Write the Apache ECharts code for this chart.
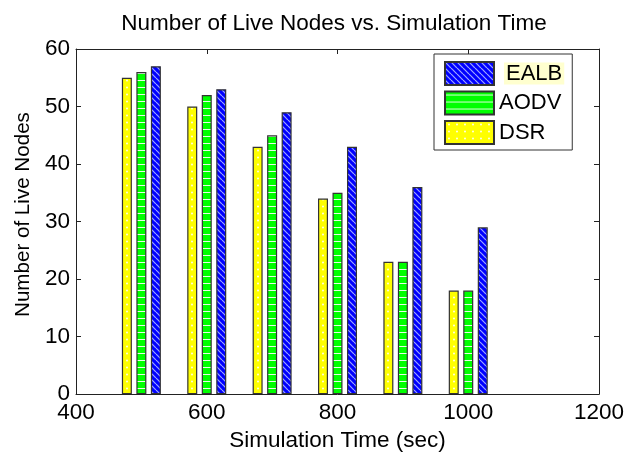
<!DOCTYPE html>
<html><head><meta charset="utf-8">
<script src="https://cdn.jsdelivr.net/npm/echarts@6/dist/echarts.min.js"></script>
<style>html,body{margin:0;padding:0;background:#fff}#c{width:628px;height:457px}</style>
</head><body><div id="c"></div>
<script>
// ---- data ----
const times = [500, 600, 700, 800, 900, 1000];
const dsr   = [55, 50, 43, 34, 23, 18];
const aodv  = [56, 52, 45, 35, 23, 18];
const ealb  = [57, 53, 49, 43, 36, 29];
const xMin = 400, xMax = 1200, xStep = 200;
const yMin = 0, yMax = 60, yStep = 10;
const legendOrder = ['EALB', 'AODV', 'DSR'];

// ---- patterns ----
function makeCanvas(w, h, draw) {
  const c = document.createElement('canvas');
  c.width = w; c.height = h;
  draw(c.getContext('2d'));
  return c;
}
const blueImg = makeCanvas(6, 6, g => {
  g.fillStyle = '#0000ff'; g.fillRect(0, 0, 6, 6);
  g.strokeStyle = '#a0a8ff'; g.lineWidth = 1.2;
  for (const o of [-6, 0, 6]) { g.beginPath(); g.moveTo(o, 0); g.lineTo(o + 6, 6); g.stroke(); }
});
const greenImg = makeCanvas(4, 7, g => {
  g.fillStyle = '#00ff00'; g.fillRect(0, 0, 4, 7);
  g.fillStyle = '#e8ffe8'; g.fillRect(0, 3, 4, 1);
});
const yellowImg = makeCanvas(8, 7, g => {
  g.fillStyle = '#ffff00'; g.fillRect(0, 0, 8, 7);
  g.fillStyle = '#ffffff'; g.beginPath(); g.arc(4, 3.5, 0.9, 0, Math.PI * 2); g.fill();
});
const pat = (img, x) => ({ image: img, repeat: 'repeat', x: x || 0, y: 0 });

const FONT = 'Liberation Sans, Arial, Helvetica, sans-serif';
const FS = 22.5;
const BAR_W = 10, GAP = 0.45;
const border = { borderColor: '#333', borderWidth: 1.2 };

const axisCommonX = {
  type: 'value', min: xMin, max: xMax, interval: xStep,
  axisLine: { show: true, onZero: false, lineStyle: { color: '#222', width: 1 } },
  axisTick: { show: true, inside: true, length: 5, lineStyle: { color: '#222' } },
  splitLine: { show: false }
};
const axisCommonY = {
  type: 'value', min: yMin, max: yMax, interval: yStep,
  axisLine: { show: true, onZero: false, lineStyle: { color: '#222', width: 1 } },
  axisTick: { show: true, inside: true, length: 5, lineStyle: { color: '#222' } },
  splitLine: { show: false }
};

const option = {
  animation: false,
  backgroundColor: '#fff',
  textStyle: { fontFamily: FONT },
  title: {
    text: 'Number of Live Nodes vs. Simulation Time',
    left: 334, top: 12, padding: 0, textAlign: 'center',
    textStyle: { fontFamily: FONT, fontSize: FS, fontWeight: 'normal', color: '#000' }
  },
  grid: { left: 76, right: 29, top: 49, bottom: 55.5, containLabel: false },
  legend: {
    orient: 'vertical', left: 434, top: 54,
    padding: [7, 8, 5, 10], itemGap: 4.5,
    itemWidth: 49, itemHeight: 23,
    backgroundColor: '#fff', borderColor: '#333', borderWidth: 1, borderRadius: 0,
    icon: 'rect',
    data: legendOrder,
    formatter: n => n === 'EALB' ? '{g|}{h|' + n + '}' : n,
    textStyle: {
      fontFamily: FONT, fontSize: 22, color: '#000', lineHeight: 23,
      rich: {
        g: { width: 5, lineHeight: 23 },
        h: { fontFamily: FONT, fontSize: 22, color: '#000', backgroundColor: '#ffffcf', padding: [0, 2, 0, 2], lineHeight: 23 }
      }
    }
  },
  xAxis: [
    Object.assign({}, axisCommonX, {
      position: 'bottom',
      name: 'Simulation Time (sec)', nameLocation: 'middle', nameGap: 27,
      nameTextStyle: { fontFamily: FONT, fontSize: FS, color: '#000' },
      axisLabel: { show: true, margin: 7, fontFamily: FONT, fontSize: FS, color: '#000', formatter: v => String(v) }
    }),
    Object.assign({}, axisCommonX, { position: 'top', axisLabel: { show: false } })
  ],
  yAxis: [
    Object.assign({}, axisCommonY, {
      position: 'left',
      name: 'Number of Live Nodes', nameLocation: 'middle', nameGap: 42,
      nameTextStyle: { fontFamily: FONT, fontSize: 20.6, color: '#000', padding: [0, 0, 0, 14] },
      axisLabel: { show: true, margin: 6, fontFamily: FONT, fontSize: FS, color: '#000' }
    }),
    Object.assign({}, axisCommonY, { position: 'right', axisLabel: { show: false } })
  ],
  series: [
    { name: 'DSR', type: 'bar', barWidth: BAR_W, barGap: (GAP * 100) + '%',
      itemStyle: Object.assign({ color: pat(yellowImg) }, border),
      data: times.map((t, i) => [t, dsr[i]]) },
    { name: 'AODV', type: 'bar', barWidth: BAR_W, barGap: (GAP * 100) + '%',
      itemStyle: Object.assign({ color: pat(greenImg) }, border),
      data: times.map((t, i) => [t, aodv[i]]) },
    { name: 'EALB', type: 'bar', barWidth: BAR_W, barGap: (GAP * 100) + '%',
      itemStyle: Object.assign({ color: pat(blueImg) }, border),
      data: times.map((t, i) => [t, ealb[i]]) }
  ]
};

const chart = echarts.init(document.getElementById('c'), null, { renderer: 'canvas' });
chart.setOption(option);

// align the yellow dot column with the centre of each DSR bar
const centreOffset = BAR_W * (1 + GAP);
const dsrItems = times.map((t, i) => {
  const cx = chart.convertToPixel({ xAxisIndex: 0 }, t) - centreOffset;
  return { value: [t, dsr[i]], itemStyle: { color: pat(yellowImg, Math.round(cx) - 4) } };
});
chart.setOption({ series: [{ name: 'DSR', data: dsrItems }] });
</script>
</body></html>
